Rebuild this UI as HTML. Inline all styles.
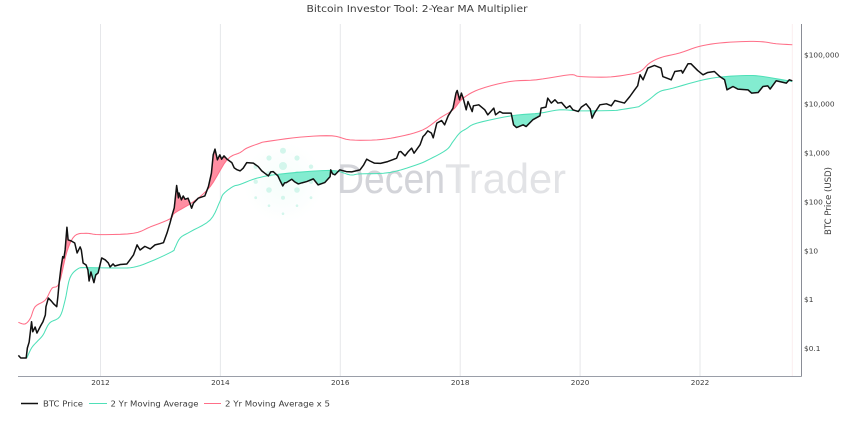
<!DOCTYPE html>
<html lang="en">
<head>
<meta charset="utf-8">
<title>Bitcoin Investor Tool: 2-Year MA Multiplier</title>
<style>
html,body{margin:0;padding:0;background:#fff;}
#chart{display:block;width:850px;height:425px;filter:blur(0.3px);}
text{font-family:"DejaVu Sans","Liberation Sans",sans-serif;fill:#3c3c3c;}
</style>
</head>
<body>
<svg id="chart" xmlns="http://www.w3.org/2000/svg" width="850" height="425" viewBox="0 0 850 425">
  <rect x="0" y="0" width="850" height="425" fill="#fff"/>
  <text x="417" y="12" text-anchor="middle" font-size="9.6" textLength="221" lengthAdjust="spacingAndGlyphs">Bitcoin Investor Tool: 2-Year MA Multiplier</text>
  <g id="grid"></g>
  <g id="watermark">
    <defs>
      <radialGradient id="glow"><stop offset="0" stop-color="#e6faf5" stop-opacity=".4"/><stop offset="1" stop-color="#e6faf5" stop-opacity="0"/></radialGradient>
    </defs>
    <circle cx="283" cy="182" r="40" fill="url(#glow)"/>
    <g fill="#d3f6ec">
      <circle cx="283" cy="150.7" r="3"/><circle cx="269" cy="158" r="2.6"/><circle cx="297" cy="158" r="2.6"/>
      <circle cx="283" cy="166" r="4"/><circle cx="311" cy="166.7" r="2.2"/><circle cx="255.7" cy="166.7" r="2.2"/>
      <circle cx="269" cy="174" r="3"/><circle cx="297" cy="174" r="3"/><circle cx="255.7" cy="181.7" r="2.2"/><circle cx="311" cy="181.7" r="2.2"/>
      <circle cx="283" cy="180" r="4"/><circle cx="269" cy="190" r="2.8"/><circle cx="297" cy="190" r="2.8"/>
      <circle cx="283" cy="197.7" r="2"/><circle cx="255.7" cy="197.7" r="1.4"/><circle cx="311" cy="197.7" r="1.4"/>
      <circle cx="269" cy="205.7" r="1.3"/><circle cx="297" cy="205.7" r="1.3"/><circle cx="283" cy="213.7" r="1.3"/>
    </g>
    <text x="337" y="193" font-size="42" style="font-family:'Liberation Sans',sans-serif;fill:#d3d4d9" textLength="108" lengthAdjust="spacingAndGlyphs">Decen</text>
    <text x="445" y="193" font-size="42" style="font-family:'Liberation Sans',sans-serif;fill:#e2e3e6" textLength="121" lengthAdjust="spacingAndGlyphs">Trader</text>
  </g>
  <g id="fills"></g>
  <g id="lines"></g>
  <g id="axes"></g>
  <text transform="translate(831,201) rotate(-90)" text-anchor="middle" font-size="8.6" textLength="68" lengthAdjust="spacingAndGlyphs">BTC Price (USD)</text>
  <g>
    <g>
      <line x1="21" x2="38" y1="403.5" y2="403.5" stroke="#111" stroke-width="1.5"/>
      <text x="43" y="406.5" font-size="8.2" textLength="40" lengthAdjust="spacingAndGlyphs">BTC Price</text>
    </g>
    <g>
      <line x1="89" x2="107" y1="403.5" y2="403.5" stroke="#4fe0b8" stroke-width="1.1"/>
      <text x="110.500" y="406.5" font-size="8.2" textLength="88" lengthAdjust="spacingAndGlyphs">2 Yr Moving Average</text>
    </g>
    <g>
      <line x1="204" x2="221" y1="403.5" y2="403.5" stroke="#ff6f88" stroke-width="1.1"/>
      <text x="225" y="406.5" font-size="8.2" textLength="105" lengthAdjust="spacingAndGlyphs">2 Yr Moving Average x 5</text>
    </g>
  </g>
</svg>
<script>
const xTickYears = [2012, 2014, 2016, 2018, 2020, 2022];
const yTickValues = [100000, 10000, 1000, 100, 10, 1, 0.1];
const yTickLabels = ['$100,000', '$10,000', '$1,000', '$100', '$10', '$1', '$0.1'];

const btcDates = [
  2010.63,2010.67,2010.76,2010.78,2010.81,2010.85,2010.87,2010.91,2010.94,2011.0,
  2011.04,2011.08,2011.09,2011.13,2011.18,2011.22,2011.27,2011.29,2011.31,2011.34,
  2011.37,2011.39,2011.41,2011.44,2011.46,2011.51,2011.57,2011.61,2011.66,2011.68,
  2011.71,2011.76,2011.79,2011.81,2011.84,2011.89,2011.92,2011.96,2012.02,2012.08,
  2012.13,2012.16,2012.21,2012.24,2012.33,2012.44,2012.49,2012.55,2012.61,2012.66,
  2012.74,2012.83,2012.91,2012.98,2013.05,2013.11,2013.16,2013.19,2013.23,2013.27,
  2013.30,2013.31,2013.35,2013.38,2013.41,2013.46,2013.49,2013.52,2013.55,2013.63,
  2013.74,2013.80,2013.85,2013.88,2013.91,2013.95,2013.99,2014.02,2014.06,2014.11,
  2014.19,2014.23,2014.28,2014.33,2014.38,2014.44,2014.55,2014.63,2014.69,2014.74,
  2014.80,2014.84,2014.88,2014.96,2014.99,2015.04,2015.07,2015.10,2015.19,2015.24,
  2015.30,2015.36,2015.44,2015.55,2015.59,2015.63,2015.74,2015.83,2015.84,2015.87,
  2015.91,2015.99,2016.10,2016.19,2016.33,2016.39,2016.44,2016.49,2016.57,2016.67,
  2016.79,2016.87,2016.94,2016.98,2017.01,2017.08,2017.13,2017.19,2017.23,2017.33,
  2017.38,2017.41,2017.46,2017.52,2017.55,2017.61,2017.69,2017.74,2017.80,2017.88,
  2017.93,2017.95,2017.99,2018.02,2018.05,2018.10,2018.13,2018.20,2018.22,2018.31,
  2018.41,2018.46,2018.56,2018.59,2018.66,2018.71,2018.85,2018.89,2018.94,2019.05,
  2019.10,2019.21,2019.33,2019.35,2019.43,2019.46,2019.52,2019.58,2019.63,2019.69,
  2019.77,2019.83,2019.88,2019.97,2020.02,2020.10,2020.17,2020.20,2020.24,2020.33,
  2020.44,2020.52,2020.58,2020.66,2020.74,2020.83,2020.91,2020.96,2021.0,2021.05,
  2021.13,2021.24,2021.35,2021.38,2021.52,2021.58,2021.69,2021.71,2021.80,2021.85,
  2021.96,2022.05,2022.13,2022.24,2022.33,2022.41,2022.45,2022.55,2022.63,2022.80,
  2022.86,2022.97,2023.05,2023.13,2023.17,2023.27,2023.44,2023.49,2023.54
];
const btcPrices = [
  0.072,0.0635,0.0635,0.102,0.135,0.351,0.219,0.274,0.206,0.287,
  0.351,0.482,0.713,1.07,0.93,0.81,0.713,1.18,2.18,4.42,
  7.52,7.08,10.3,30.1,16.5,15.8,14.3,8.95,11.9,10.3,
  5.58,5.08,4.02,2.39,3.66,2.21,3.17,3.49,7.07,6.44,
  5.59,4.63,5.33,4.85,5.2,5.33,6.44,8.15,13.1,10.3,
  12.2,10.8,13.1,13.7,14.5,23,36.8,51,74.6,214,
  120,151,109,131,112,118,94.5,73.6,93,118,
  131,204,383,908,1189,718,908,741,866,741,
  631,492,448,427,485,631,614,523,427,383,
  337,407,413,337,279,210,243,246,288,254,
  231,243,258,293,254,221,246,326,448,371,
  354,448,413,407,448,566,741,684,614,608,
  661,718,777,1045,1061,866,1045,1245,984,1455,
  2153,2328,2812,2523,2023,4046,4571,3733,5702,8200,
  16630,18800,12130,16630,13100,7570,11200,6980,9140,9580,
  7570,5980,8200,5980,6980,6470,6470,3733,3290,3733,
  3444,4720,5702,8200,8590,13100,10400,12130,10400,10670,
  8200,9140,7570,6980,8590,10040,7820,5120,6470,9580,
  10040,9140,11730,11040,10400,14170,19450,23400,39400,31100,
  54100,61100,54100,36300,31100,46000,48300,42700,66100,66100,
  48300,39400,43900,46000,36300,31100,19400,22700,20100,19400,
  16630,17100,22700,23400,20100,29700,26600,31100,29700
];

const maDates = [
  2010.77,2010.85,2010.94,2011.04,2011.15,2011.32,2011.41,2011.49,2011.62,2011.76,
  2012.27,2012.55,2012.83,2013.19,2013.24,2013.33,2013.50,2013.83,2013.99,2014.05,
  2014.21,2014.33,2014.61,2014.99,2015.83,2016.16,2016.33,2016.82,2017.27,2017.49,
  2017.77,2017.88,2017.99,2018.10,2018.28,2018.85,2019.33,2019.66,2020.0,2020.55,
  2020.66,2020.94,2021.0,2021.16,2021.33,2021.55,2021.99,2022.33,2022.77,2023.05,2023.54
];
const maValues = [
  0.0635,0.102,0.137,0.187,0.33,0.445,0.977,2.75,4.21,4.48,
  4.41,4.56,5.94,9.51,11.3,18.2,24.4,42.4,100,144,
  204,226,303,367,437,354,371,394,566,741,
  1148,1698,2523,3090,4046,5702,6470,7570,7210,7330,
  7570,8590,9140,12500,17900,21000,29700,35300,38100,36300,28700
];

const ma5Dates = [
  2010.63,2010.74,2010.83,2010.91,2011.08,2011.19,2011.31,2011.44,2011.57,2011.76,
  2011.99,2012.55,2012.83,2013.16,2013.24,2013.55,2013.83,2014.11,2014.33,2014.44,
  2014.66,2014.77,2015.33,2015.86,2016.16,2016.61,2016.99,2017.38,2017.66,2017.88,
  2018.05,2018.33,2018.83,2019.27,2019.83,2019.99,2020.44,2020.78,2021.0,2021.16,
  2021.35,2021.66,2021.99,2022.33,2022.77,2023.05,2023.27,2023.54
];
const ma5Values = [
  0.341,0.316,0.412,0.713,0.977,1.69,2.15,9.51,20,22.6,
  21.2,22.6,30.5,44.5,59,100,204,718,1012,1245,
  1574,1698,2089,2223,1841,1841,2153,2951,5117,7570,
  13100,20100,28700,31100,39400,36300,35300,39400,46000,68400,
  89100,110000,150000,176000,189000,186000,170000,162000
];

const NS = 'http://www.w3.org/2000/svg';
const plotLeft = 18, plotRight = 801.5, plotTop = 24, plotBottom = 376.5;
function xScale(year) { return 100.5 + (year - 2012) * 59.95; }
function yScale(value) { return 55 + (5 - Math.log10(value)) * 48.9; }
function coords(dates, values) {
  return dates.map(function (d, i) { return [xScale(d), yScale(values[i])]; });
}
function fmt(list) {
  return list.map(function (p) { return p[0].toFixed(2) + ',' + p[1].toFixed(2); });
}
function smooth(list) {
  const out = [];
  for (let i = 0; i < list.length - 1; i++) {
    const p0 = list[Math.max(i - 1, 0)], p1 = list[i], p2 = list[i + 1], p3 = list[Math.min(i + 2, list.length - 1)];
    for (let s = 0; s < 5; s++) {
      const t = s / 5, t2 = t * t, t3 = t2 * t;
      out.push([0, 1].map(function (k) {
        return 0.5 * (2 * p1[k] + (p2[k] - p0[k]) * t + (2 * p0[k] - 5 * p1[k] + 4 * p2[k] - p3[k]) * t2 + (3 * p1[k] - p0[k] - 3 * p2[k] + p3[k]) * t3);
      }));
    }
  }
  out.push(list[list.length - 1]);
  return out;
}
function make(tag, attrs) {
  const el = document.createElementNS(NS, tag);
  Object.keys(attrs).forEach(function (k) { el.setAttribute(k, attrs[k]); });
  return el;
}

const gridG = document.getElementById('grid');
const axesG = document.getElementById('axes');
const fillsG = document.getElementById('fills');
const linesG = document.getElementById('lines');

xTickYears.forEach(function (year) {
  const line = make('line', { x1: xScale(year), x2: xScale(year), y1: plotTop, y2: plotBottom, stroke: '#e6e7ea', 'stroke-width': 1 });
  
  
  gridG.appendChild(line);
  const label = make('text', { x: xScale(year), y: 385, 'text-anchor': 'middle', 'font-size': 7.3 });
  label.textContent = String(year);
  
  
  axesG.appendChild(label);
});

const endMarker = make('line', { x1: xScale(btcDates[btcDates.length - 1]), x2: xScale(btcDates[btcDates.length - 1]), y1: plotTop, y2: plotBottom, stroke: '#fbeef0', 'stroke-width': 1 });


gridG.appendChild(endMarker);

yTickValues.forEach(function (value, i) {
  const label = make('text', { x: 804, y: yScale(value) + 2.7, 'font-size': 7.4 });
  label.textContent = yTickLabels[i];
  
  
  axesG.appendChild(label);
});

const xAxis = make('line', { x1: plotLeft, x2: plotRight, y1: plotBottom, y2: plotBottom, stroke: '#9a9ea8', 'stroke-width': 1 });


axesG.appendChild(xAxis);
const yAxis = make('line', { x1: plotRight, x2: plotRight, y1: plotTop, y2: plotBottom, stroke: '#8a8d96', 'stroke-width': 1 });


axesG.appendChild(yAxis);

const btcPts = fmt(coords(btcDates, btcPrices));
const maPts = fmt(smooth(coords(maDates, maValues)));
const ma5Pts = fmt(smooth(coords(ma5Dates, ma5Values)));

const defs = make('defs', {});
const clipBelow = make('clipPath', { id: 'below-ma' });
clipBelow.appendChild(make('polygon', {
  points: maPts.join(' ') + ' ' + xScale(maDates[maDates.length - 1]) + ',' + plotBottom + ' ' + xScale(maDates[0]) + ',' + plotBottom
}));
defs.appendChild(clipBelow);
const clipAbove = make('clipPath', { id: 'above-ma5' });
clipAbove.appendChild(make('polygon', {
  points: ma5Pts.join(' ') + ' ' + xScale(ma5Dates[ma5Dates.length - 1]) + ',' + plotTop + ' ' + xScale(ma5Dates[0]) + ',' + plotTop
}));
defs.appendChild(clipAbove);
fillsG.appendChild(defs);

const tealFill = make('polygon', {
  points: btcPts.join(' ') + ' ' + maPts.slice().reverse().join(' '),
  fill: '#83ecd0', 'fill-rule': 'evenodd', 'clip-path': 'url(#below-ma)'
});


fillsG.appendChild(tealFill);

const pinkFill = make('polygon', {
  points: btcPts.join(' ') + ' ' + ma5Pts.slice().reverse().join(' '),
  fill: '#ff8ea2', 'fill-rule': 'evenodd', 'clip-path': 'url(#above-ma5)'
});


fillsG.appendChild(pinkFill);

const maLine = make('polyline', { points: maPts.join(' '), fill: 'none', stroke: '#4fe0b8', 'stroke-width': 1.05, 'stroke-linejoin': 'round' });


linesG.appendChild(maLine);

const ma5Line = make('polyline', { points: ma5Pts.join(' '), fill: 'none', stroke: '#ff6f88', 'stroke-width': 1.05, 'stroke-linejoin': 'round' });


linesG.appendChild(ma5Line);

const btcLine = make('polyline', { points: btcPts.join(' '), fill: 'none', stroke: '#111', 'stroke-width': 1.5, 'stroke-linejoin': 'round' });


linesG.appendChild(btcLine);
</script>
</body>
</html>
